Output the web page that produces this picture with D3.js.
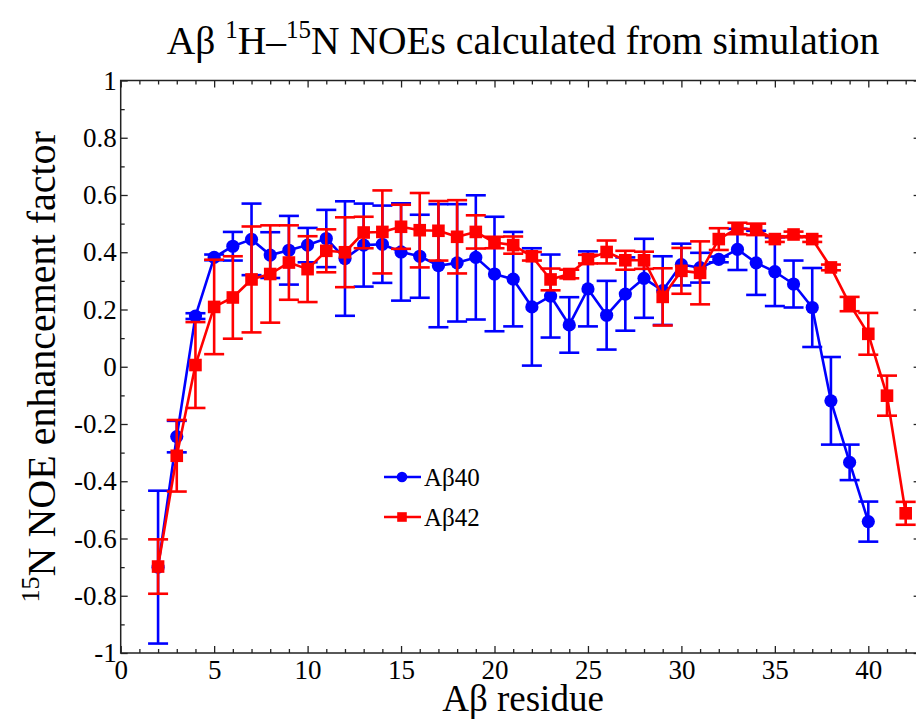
<!DOCTYPE html>
<html>
<head>
<meta charset="utf-8">
<script src="https://cdn.jsdelivr.net/npm/d3@7"></script>
<style>
  html, body { margin: 0; padding: 0; background: #fff; }
  svg { display: block; }
  svg text { font-family: "Liberation Serif", "Times New Roman", serif; }
</style>
</head>
<body>
<svg id="chart" width="916" height="719"></svg>
<script>
// Residue numbers
const residues40 = d3.range(2, 41);
const residues42 = d3.range(2, 43);

// Aβ40: NOE enhancement factor and its error
const noe40 = [-0.70, -0.244, 0.177, 0.382, 0.421, 0.445, 0.39, 0.407, 0.425, 0.448,
  0.378, 0.425, 0.428, 0.401, 0.386, 0.353, 0.363, 0.382, 0.324, 0.306,
  0.209, 0.247, 0.146, 0.272, 0.18, 0.254, 0.309, 0.266, 0.357, 0.346,
  0.375, 0.41, 0.363, 0.332, 0.289, 0.207, -0.119, -0.334, -0.541];
const err40 = [0.267, 0.055, 0.01, 0.01, 0.05, 0.125, 0.08, 0.12, 0.06, 0.10,
  0.20, 0.145, 0.135, 0.17, 0.145, 0.215, 0.205, 0.217, 0.20, 0.165,
  0.205, 0.145, 0.097, 0.131, 0.12, 0.128, 0.138, 0.12, 0.073, 0.052,
  0.01, 0.072, 0.112, 0.12, 0.082, 0.138, 0.153, 0.062, 0.07];

// Aβ42: NOE enhancement factor and its error
const noe42 = [-0.698, -0.311, 0.006, 0.209, 0.242, 0.305, 0.324, 0.364, 0.341, 0.405,
  0.40, 0.469, 0.471, 0.489, 0.477, 0.475, 0.454, 0.471, 0.434, 0.425,
  0.386, 0.305, 0.324, 0.376, 0.401, 0.372, 0.372, 0.244, 0.335, 0.328,
  0.446, 0.483, 0.48, 0.446, 0.462, 0.446, 0.347, 0.219, 0.115, -0.101, -0.512];
const err42 = [0.095, 0.125, 0.15, 0.165, 0.144, 0.185, 0.17, 0.13, 0.115, 0.075,
  0.122, 0.055, 0.145, 0.077, 0.13, 0.104, 0.128, 0.058, 0.02, 0.03,
  0.015, 0.038, 0.015, 0.015, 0.04, 0.033, 0.03, 0.10, 0.08, 0.11,
  0.038, 0.02, 0.02, 0.01, 0.01, 0.01, 0.01, 0.025, 0.073, 0.07, 0.04];

// Axis ticks and labels
const xTicks = [0, 5, 10, 15, 20, 25, 30, 35, 40];
const xTickLabels = ["0", "5", "10", "15", "20", "25", "30", "35", "40"];
const yTicks = [-1, -0.8, -0.6, -0.4, -0.2, 0, 0.2, 0.4, 0.6, 0.8, 1];
const yTickLabels = ["-1", "-0.8", "-0.6", "-0.4", "-0.2", "0", "0.2", "0.4", "0.6", "0.8", "1"];

const seriesNames = ["Aβ40", "Aβ42"];
const seriesColors = ["#0000ff", "#ff0000"];

const serif = "'Liberation Serif', 'Times New Roman', serif";
const svg = d3.select("#chart");
const plotLeft = 120.7, plotTop = 80.5, plotBottom = 653;
const xMax = 42.8;
const x = d3.scaleLinear().domain([0, xMax]).range([plotLeft, plotLeft + xMax * 18.69]);
const y = d3.scaleLinear().domain([-1, 1]).range([plotBottom, plotTop]);
const plotRight = x(xMax);

const frameColor = "#222";

// Ticks (inward) on all four sides
function styleAxis(g) {
  g.attr("font-family", serif).attr("font-size", 27);
  g.select(".domain").remove();
  g.selectAll(".tick line").attr("stroke", frameColor).attr("stroke-width", 1.3);
  g.selectAll("text").attr("fill", "#000");
}
const xMinor = d3.range(0, 43, 1).filter(v => v % 5 !== 0);
const yMinor = d3.range(-9, 10, 2).map(v => v / 10);

svg.append("g").attr("transform", `translate(0,${plotBottom})`)
  .call(d3.axisBottom(x).tickValues(xTicks).tickSize(-7).tickPadding(7)
    .tickFormat((d, i) => xTickLabels[i])).call(styleAxis);
svg.append("g").attr("transform", `translate(0,${plotBottom})`)
  .call(d3.axisBottom(x).tickValues(xMinor).tickSize(-4).tickFormat("")).call(styleAxis);
svg.append("g").attr("transform", `translate(0,${plotTop})`)
  .call(d3.axisTop(x).tickValues(xTicks).tickSize(-7).tickFormat("")).call(styleAxis);
svg.append("g").attr("transform", `translate(0,${plotTop})`)
  .call(d3.axisTop(x).tickValues(xMinor).tickSize(-4).tickFormat("")).call(styleAxis);

svg.append("g").attr("transform", `translate(${plotLeft},0)`)
  .call(d3.axisLeft(y).tickValues(yTicks).tickSize(-7).tickPadding(4)
    .tickFormat((d, i) => yTickLabels[i])).call(styleAxis);
svg.append("g").attr("transform", `translate(${plotLeft},0)`)
  .call(d3.axisLeft(y).tickValues(yMinor).tickSize(-4).tickFormat("")).call(styleAxis);
svg.append("g").attr("transform", `translate(${plotRight},0)`)
  .call(d3.axisRight(y).tickValues(yTicks).tickSize(-7).tickFormat("")).call(styleAxis);
svg.append("g").attr("transform", `translate(${plotRight},0)`)
  .call(d3.axisRight(y).tickValues(yMinor).tickSize(-4).tickFormat("")).call(styleAxis);

// Frame
svg.append("rect")
  .attr("x", plotLeft).attr("y", plotTop)
  .attr("width", plotRight - plotLeft).attr("height", plotBottom - plotTop)
  .attr("fill", "none").attr("stroke", frameColor).attr("stroke-width", 1.5);

// Series: line, symbols, error bars
const series = [
  { name: seriesNames[0], color: seriesColors[0], xs: residues40, ys: noe40, es: err40, symbol: "circle" },
  { name: seriesNames[1], color: seriesColors[1], xs: residues42, ys: noe42, es: err42, symbol: "square" }
];

const line = d3.line().x(d => x(d.r)).y(d => y(d.v));
const capHalf = 10;

series.forEach(s => {
  const pts = s.xs.map((r, i) => ({ r, v: s.ys[i], e: s.es[i] }));
  const g = svg.append("g");

  g.append("path").datum(pts)
    .attr("d", line).attr("fill", "none")
    .attr("stroke", s.color).attr("stroke-width", 2.6).attr("stroke-linejoin", "round");

  if (s.symbol === "circle") {
    g.selectAll("circle").data(pts).join("circle")
      .attr("cx", d => x(d.r)).attr("cy", d => y(d.v)).attr("r", 6.6)
      .attr("fill", s.color);
  } else {
    g.selectAll("rect").data(pts).join("rect")
      .attr("x", d => x(d.r) - 6.3).attr("y", d => y(d.v) - 6.3)
      .attr("width", 12.6).attr("height", 12.6)
      .attr("fill", s.color);
  }

  const eb = g.selectAll("g.err").data(pts).join("g").attr("class", "err")
    .attr("stroke", s.color).attr("stroke-width", 2.6);
  eb.append("line")
    .attr("x1", d => x(d.r)).attr("x2", d => x(d.r))
    .attr("y1", d => y(d.v + d.e)).attr("y2", d => y(d.v - d.e));
  eb.append("line")
    .attr("x1", d => x(d.r) - capHalf).attr("x2", d => x(d.r) + capHalf)
    .attr("y1", d => y(d.v + d.e)).attr("y2", d => y(d.v + d.e));
  eb.append("line")
    .attr("x1", d => x(d.r) - capHalf).attr("x2", d => x(d.r) + capHalf)
    .attr("y1", d => y(d.v - d.e)).attr("y2", d => y(d.v - d.e));
});

// Legend
const legend = svg.append("g");
series.forEach((s, i) => {
  const ly = 477 + i * 40;
  legend.append("line").attr("x1", 384).attr("x2", 421).attr("y1", ly).attr("y2", ly)
    .attr("stroke", s.color).attr("stroke-width", 2.6);
  if (s.symbol === "circle") {
    legend.append("circle").attr("cx", 402).attr("cy", ly).attr("r", 5.3).attr("fill", s.color);
  } else {
    legend.append("rect").attr("x", 402 - 4.8).attr("y", ly - 4.8)
      .attr("width", 9.6).attr("height", 9.6).attr("fill", s.color);
  }
  legend.append("text").attr("x", 424).attr("y", ly + 9)
    .attr("font-family", serif).attr("font-size", 25).attr("fill", "#000").text(s.name);
});

// Title
const title = svg.append("text").attr("x", 523).attr("y", 54)
  .attr("text-anchor", "middle").attr("font-family", serif)
  .attr("font-size", 39.5).attr("fill", "#000");
title.append("tspan").text("Aβ ");
title.append("tspan").attr("font-size", 25).attr("dy", -16).text("1");
title.append("tspan").attr("dy", 16).text("H–");
title.append("tspan").attr("font-size", 25).attr("dy", -16).text("15");
title.append("tspan").attr("dy", 16).text("N NOEs calculated from simulation");

// Axis titles
svg.append("text").attr("x", 523).attr("y", 711)
  .attr("text-anchor", "middle").attr("font-family", serif)
  .attr("font-size", 37).attr("fill", "#000")
  .text("Aβ residue");

const yTitle = svg.append("text")
  .attr("transform", `translate(55,${(plotTop + plotBottom) / 2}) rotate(-90)`)
  .attr("text-anchor", "middle").attr("font-family", serif)
  .attr("font-size", 40).attr("fill", "#000");
yTitle.append("tspan").attr("font-size", 26).attr("dy", -16).text("15");
yTitle.append("tspan").attr("dy", 16).text("N NOE enhancement factor");
</script>
</body>
</html>
